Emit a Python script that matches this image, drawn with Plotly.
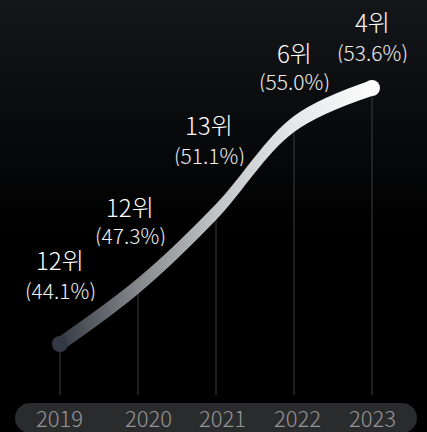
import plotly.graph_objects as go

# ---------------- data ----------------
years = [2019, 2020, 2021, 2022, 2023]
year_labels = ["2019", "2020", "2021", "2022", "2023"]
rank_labels = ["12위", "12위", "13위", "6위", "4위"]
share_labels = ["(44.1%)", "(47.3%)", "(51.1%)", "(55.0%)", "(53.6%)"]
trend_level = [88, 146, 220, 308, 344]   # height of the curve (chart units)

# ---------------- styles ----------------
W, H = 427, 432
X0_PX, STEP_PX = 60, 78
FONT = "Noto Sans CJK KR Light, Noto Sans CJK KR"
HALF = 8                      # half thickness of the curve band
rank_up = [85, 80, 88, 72, 67]
pct_up = [54, 51, 57, 43, 36]
label_dx = [0, -8, -7, 0, 0]
tick_dx = [-1, 10, 6, 3, 0]
band_scale = [[0, '#343a43'], [0.25, '#86888c'], [0.5, '#c2c3c6'],
              [0.75, '#e6e7e9'], [1, '#fbfbfb']]


def xd(px):
    return years[0] + (px - X0_PX) / STEP_PX


def yd(py):
    return H - py


fig = go.Figure()

# background gradient
fig.add_trace(go.Scatter(
    x=[xd(0), xd(W), xd(W), xd(0), xd(0)], y=[0, 0, H, H, 0],
    mode='none', fill='toself',
    fillgradient=dict(type='vertical',
                      colorscale=[[0, '#000000'], [1, '#14161a']],
                      start=200, stop=H),
    hoverinfo='skip', showlegend=False))

# vertical guide lines
gx, gy = [], []
for x, y in zip(years, trend_level):
    gx += [x, x, None]
    gy += [y, yd(395), None]
fig.add_trace(go.Scatter(x=gx, y=gy, mode='lines',
                         line=dict(color='#3c3d40', width=1),
                         hoverinfo='skip', showlegend=False))

# curve band with horizontal gradient
fig.add_trace(go.Scatter(x=years, y=[v - HALF for v in trend_level],
                         mode='lines', line=dict(width=0, shape='spline'),
                         hoverinfo='skip', showlegend=False))
fig.add_trace(go.Scatter(x=years, y=[v + HALF for v in trend_level],
                         mode='lines', line=dict(width=0, shape='spline'),
                         fill='tonexty',
                         fillgradient=dict(type='horizontal', colorscale=band_scale,
                                           start=years[0], stop=years[-1]),
                         hoverinfo='skip', showlegend=False))
# round caps
fig.add_trace(go.Scatter(x=[years[0], years[-1]], y=[trend_level[0], trend_level[-1]],
                         mode='markers',
                         marker=dict(size=2 * HALF, color=[band_scale[0][1], band_scale[-1][1]],
                                     line=dict(width=0)),
                         hoverinfo='skip', showlegend=False))

annotations = []
for i, (x, y) in enumerate(zip(years, trend_level)):
    annotations.append(dict(x=x, y=y, text=rank_labels[i], showarrow=False,
                            xanchor='center', yanchor='middle', height=24,
                            xshift=label_dx[i], yshift=rank_up[i],
                            font=dict(family=FONT, size=24, color='#ffffff', weight=300)))
    annotations.append(dict(x=x, y=y, text=share_labels[i], showarrow=False,
                            xanchor='center', yanchor='middle', height=22,
                            xshift=label_dx[i], yshift=pct_up[i],
                            font=dict(family=FONT, size=21, color='#f0f0f0', weight=300)))
    annotations.append(dict(x=x, y=yd(416.5), text=year_labels[i], showarrow=False,
                            xanchor='center', yanchor='middle', xshift=tick_dx[i],
                            height=22,
                            font=dict(family=FONT, size=22, color='#959595', weight=300)))

pill = '#2a2b2d'
R = 15
shapes = [
    dict(type='rect', xref='x', yref='y', x0=xd(15 + R), x1=xd(417 - R),
         y0=yd(433), y1=yd(403), fillcolor=pill, line=dict(width=0)),
    dict(type='circle', xref='x', yref='y', x0=xd(15), x1=xd(15 + 2 * R),
         y0=yd(433), y1=yd(403), fillcolor=pill, line=dict(width=0)),
    dict(type='circle', xref='x', yref='y', x0=xd(417 - 2 * R), x1=xd(417),
         y0=yd(433), y1=yd(403), fillcolor=pill, line=dict(width=0)),
]

fig.update_layout(
    width=W, height=H, margin=dict(l=0, r=0, t=0, b=0),
    paper_bgcolor='#000000', plot_bgcolor='#000000',
    xaxis=dict(range=[xd(0), xd(W)], visible=False, fixedrange=True),
    yaxis=dict(range=[0, H], visible=False, fixedrange=True),
    annotations=annotations, shapes=shapes, showlegend=False,
)

fig.write_html("out.html", config={'displayModeBar': False},
               post_script="document.body.style.margin='0';"
                           "document.body.style.overflow='hidden';"
                           "document.body.style.background='#000';")
